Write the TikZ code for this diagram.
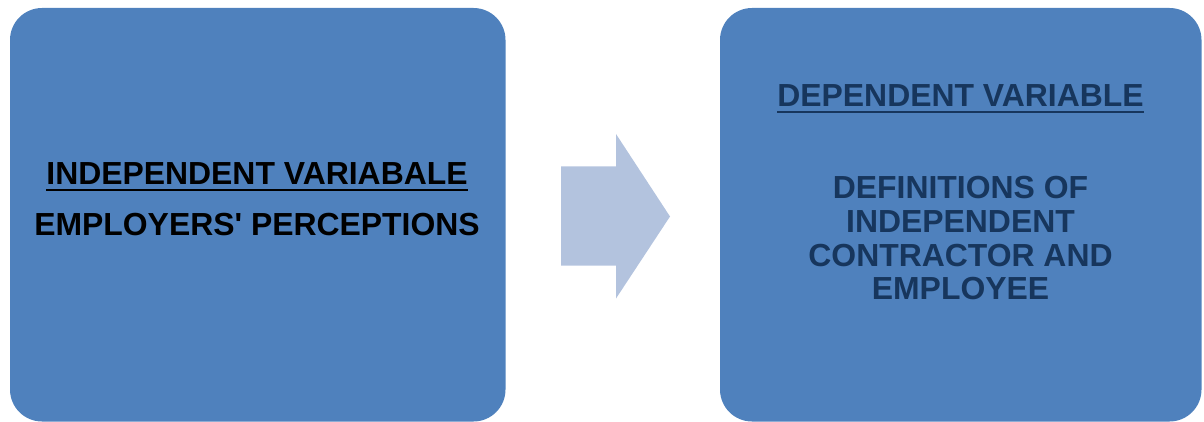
\documentclass[tikz,border=0pt]{standalone}
\usepackage{fontspec}
\setmainfont{Liberation Sans}[Ligatures=TeXOff]
\definecolor{boxblue}{HTML}{4F81BD}
\definecolor{arrowblue}{HTML}{B3C3DE}
\definecolor{navy}{HTML}{17365D}
\begin{document}
\begin{tikzpicture}[x=1pt,y=-1pt,
  panel/.style={fill=boxblue, draw=none, rounded corners=32pt},
  lbl/.style={anchor=base, inner sep=0pt, font=\fontsize{31.9}{34}\selectfont\bfseries},
  uline/.style={line width=2.2pt}]
\useasboundingbox (0,0) rectangle (1204,422);
% panels
\path[panel] (10,8) rectangle (505.5,421.5);
\path[panel] (720,8) rectangle (1201.5,421.5);
% arrow
\path[fill=arrowblue] (561,166.5) -- (616,166.5) -- (616,134) -- (670,216.5) -- (616,298.5) -- (616,265.5) -- (561,265.5) -- cycle;
% left texts
\node[lbl, text=black] (l1) at (257,185) {INDEPENDENT VARIABALE};
\draw[uline, black] ([yshift=-5pt]l1.base west) -- ([yshift=-5pt]l1.base east);
\node[lbl, text=black] (l2) at (257,235) {EMPLOYERS' PERCEPTIONS};
% right texts
\node[lbl, text=navy] (r1) at (960.5,107) {DEPENDENT VARIABLE};
\draw[uline, navy] ([yshift=-5pt]r1.base west) -- ([yshift=-5pt]r1.base east);
\node[lbl, text=navy] (r2) at (960.5,199) {DEFINITIONS OF};
\node[lbl, text=navy] (r3) at (960.5,232.3) {INDEPENDENT};
\node[lbl, text=navy] (r4) at (960.5,266.5) {CONTRACTOR AND};
\node[lbl, text=navy] (r5) at (960.5,299) {EMPLOYEE};
\end{tikzpicture}
\end{document}
